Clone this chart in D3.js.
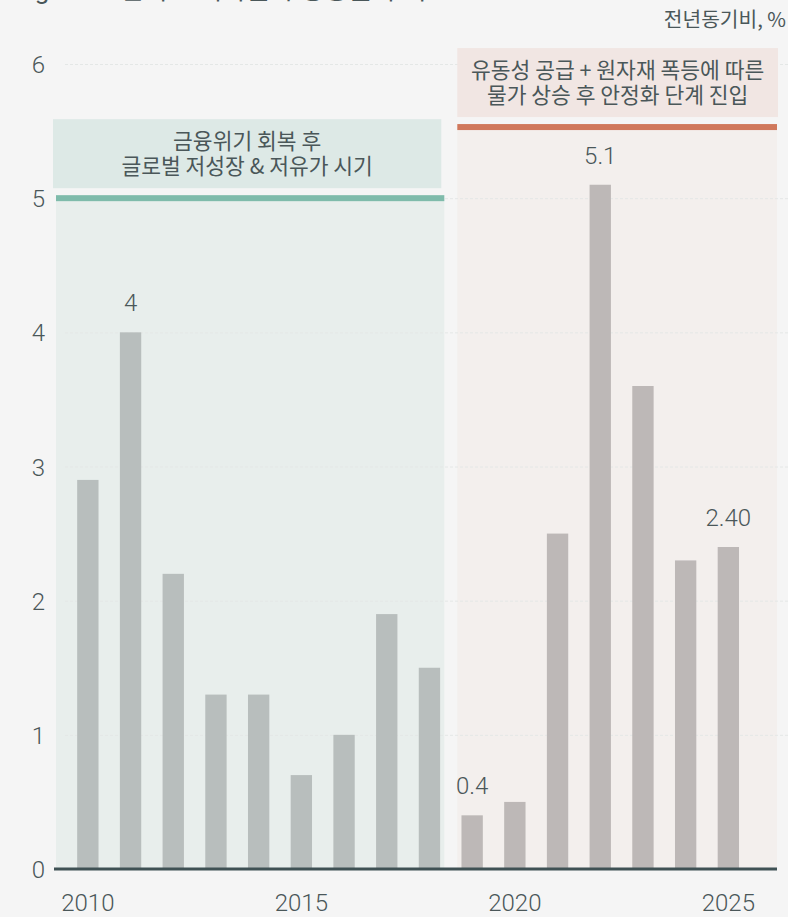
<!DOCTYPE html>
<html>
<head>
<meta charset="utf-8">
<script src="https://cdn.jsdelivr.net/npm/d3@7"></script>
<style>
  html, body { margin: 0; padding: 0; background: #f5f5f5; }
  svg { display: block; }
  text { font-family: Roboto, "Noto Sans CJK KR", sans-serif; fill: #4a5759; }
</style>
</head>
<body>
<svg id="chart" width="788" height="917"></svg>
<script>

// Consumer price growth, year on year (%)
var years = [2010, 2011, 2012, 2013, 2014, 2015, 2016, 2017,
             2018, 2019, 2020, 2021, 2022, 2023, 2024, 2025];
var values = [2.9, 4.0, 2.2, 1.3, 1.3, 0.7, 1.0, 1.9,
              1.5, 0.4, 0.5, 2.5, 5.1, 3.6, 2.3, 2.4];

var yTicks = [0, 1, 2, 3, 4, 5, 6];
var xTicks = [2010, 2015, 2020, 2025];

// value labels shown above a few bars
var labelYears = [2011, 2019, 2022, 2025];
var labelTexts = ["4", "0.4", "5.1", "2.40"];

// two periods, with the annotation text for each
var periodNames = ["post", "surge"];
var periodStart = [2010, 2019];
var periodEnd = [2018, 2025];
var periodLevel = [5, 5.53];
var periodText = [
    ["금융위기 회복 후", "글로벌 저성장 & 저유가 시기"],
    ["유동성 공급 + 원자재 폭등에 따른", "물가 상승 후 안정화 단계 진입"]
];

var unitLabel = "전년동기비, %";
var titleText = "Figure 2. 한국 소비자물가 상승률 추이";

function drawChart(){
    let svg = d3.select('#chart');

    let plot_left = 54, plot_right = 777;

    let x = d3.scaleBand()
        .domain(years)
        .range([66.5, 749.7])
        .paddingInner(0.5)
        .paddingOuter(0.25);

    let y = d3.scaleLinear().domain([0, 6]).range([869, 64]);

    let bw = x.bandwidth();
    let center = function(yr){ return x(yr) + bw / 2; };

    // styles for each period
    let regionFill = ["#e8eeec", "#f3efed"];
    let boxFill = ["#dde9e6", "#f1e6e3"];
    let lineColor = ["#7fbbab", "#d0785c"];
    let barColor = ["#b8bebd", "#bdb8b7"];

    // period extents, boundary sits half way between 2018 and 2019
    let mid = (center(2018) + center(2019)) / 2;
    let regionX0 = [plot_left + 2, mid + 6.5];
    let regionX1 = [mid - 6.5, plot_right];

    /* background regions */
    periodNames.forEach(function(name, i){
        let top = y(periodLevel[i]);
        svg.append('rect')
            .attr('x', regionX0[i])
            .attr('y', top)
            .attr('width', regionX1[i] - regionX0[i])
            .attr('height', y(0) - top)
            .attr('fill', regionFill[i]);
    });

    /* gridlines */
    svg.append('g')
        .selectAll('line')
        .data(yTicks.slice(1))
        .enter()
        .append('line')
        .attr('x1', 65)
        .attr('x2', 788)
        .attr('y1', function(d){ return y(d) + 0.5; })
        .attr('y2', function(d){ return y(d) + 0.5; })
        .attr('stroke', '#e4e7e6')
        .attr('stroke-width', 1)
        .attr('stroke-dasharray', '3,2');

    /* period marker lines and annotation boxes */
    periodNames.forEach(function(name, i){
        let top = y(periodLevel[i]);
        svg.append('rect')
            .attr('x', regionX0[i])
            .attr('y', top - 3)
            .attr('width', regionX1[i] - regionX0[i])
            .attr('height', 6)
            .attr('fill', lineColor[i]);

        let bx0 = regionX0[i] - (i === 0 ? 3 : 0);
        let bx1 = regionX1[i] - (i === 0 ? 3 : -1);
        let boxBottom = top - 10;
        svg.append('rect')
            .attr('x', bx0)
            .attr('y', boxBottom - 69)
            .attr('width', bx1 - bx0)
            .attr('height', 69)
            .attr('fill', boxFill[i]);

        let cx = (bx0 + bx1) / 2;
        let cy = boxBottom - 34.5;
        svg.append('text')
            .attr('x', cx)
            .attr('y', cy - 5)
            .attr('text-anchor', 'middle')
            .style('font-family', '"Noto Sans CJK KR", sans-serif')
            .style('font-size', '21.5px')
            .text(periodText[i][0]);
        svg.append('text')
            .attr('x', cx)
            .attr('y', cy + 20)
            .attr('text-anchor', 'middle')
            .style('font-family', '"Noto Sans CJK KR", sans-serif')
            .style('font-size', '21.5px')
            .text(periodText[i][1]);
    });

    /* bars */
    svg.append('g')
        .selectAll('rect')
        .data(years)
        .enter()
        .append('rect')
        .attr('x', function(d){ return x(d); })
        .attr('y', function(d, i){ return y(values[i]); })
        .attr('width', bw)
        .attr('height', function(d, i){ return y(0) - y(values[i]); })
        .attr('fill', function(d){ return d < periodStart[1] ? barColor[0] : barColor[1]; });

    /* value labels */
    svg.append('g')
        .selectAll('text')
        .data(labelYears)
        .enter()
        .append('text')
        .attr('x', function(d){ return center(d); })
        .attr('y', function(d){ return y(values[years.indexOf(d)]) - 21; })
        .attr('text-anchor', 'middle')
        .style('font-size', '24px')
        .style('font-weight', 300)
        .text(function(d, i){ return labelTexts[i]; });

    /* baseline */
    svg.append('line')
        .attr('x1', plot_left)
        .attr('x2', plot_right)
        .attr('y1', y(0))
        .attr('y2', y(0))
        .attr('stroke', '#3f5154')
        .attr('stroke-width', 3);

    /* y axis labels */
    let yAxis = d3.axisLeft(y).tickValues(yTicks).tickFormat(d3.format('d'))
        .tickSize(0).tickPadding(0);
    let gy = svg.append('g').attr('transform', 'translate(45,0)').call(yAxis);
    gy.select('.domain').remove();
    gy.selectAll('text')
        .attr('dy', '0.36em')
        .style('font-size', '24px')
        .style('font-weight', 300)
        .style('fill', '#4a5759');

    /* x axis labels */
    let xAxis = d3.axisBottom(x).tickValues(xTicks).tickSize(0).tickPadding(0);
    let gx = svg.append('g').attr('transform', 'translate(0,' + (y(0) + 25) + ')').call(xAxis);
    gx.select('.domain').remove();
    gx.selectAll('text')
        .attr('dy', '0.71em')
        .style('font-size', '24px')
        .style('font-weight', 300)
        .style('fill', '#4a5759');

    /* unit label and the title that is cut off at the top */
    svg.append('text')
        .attr('x', 786)
        .attr('y', 27)
        .attr('text-anchor', 'end')
        .style('font-family', '"Noto Sans CJK KR", sans-serif')
        .style('font-size', '20.3px')
        .text(unitLabel);

    svg.append('text')
        .attr('x', 14)
        .attr('y', -1)
        .style('font-size', '26px')
        .text(titleText);
}

drawChart();
</script>
</body>
</html>
